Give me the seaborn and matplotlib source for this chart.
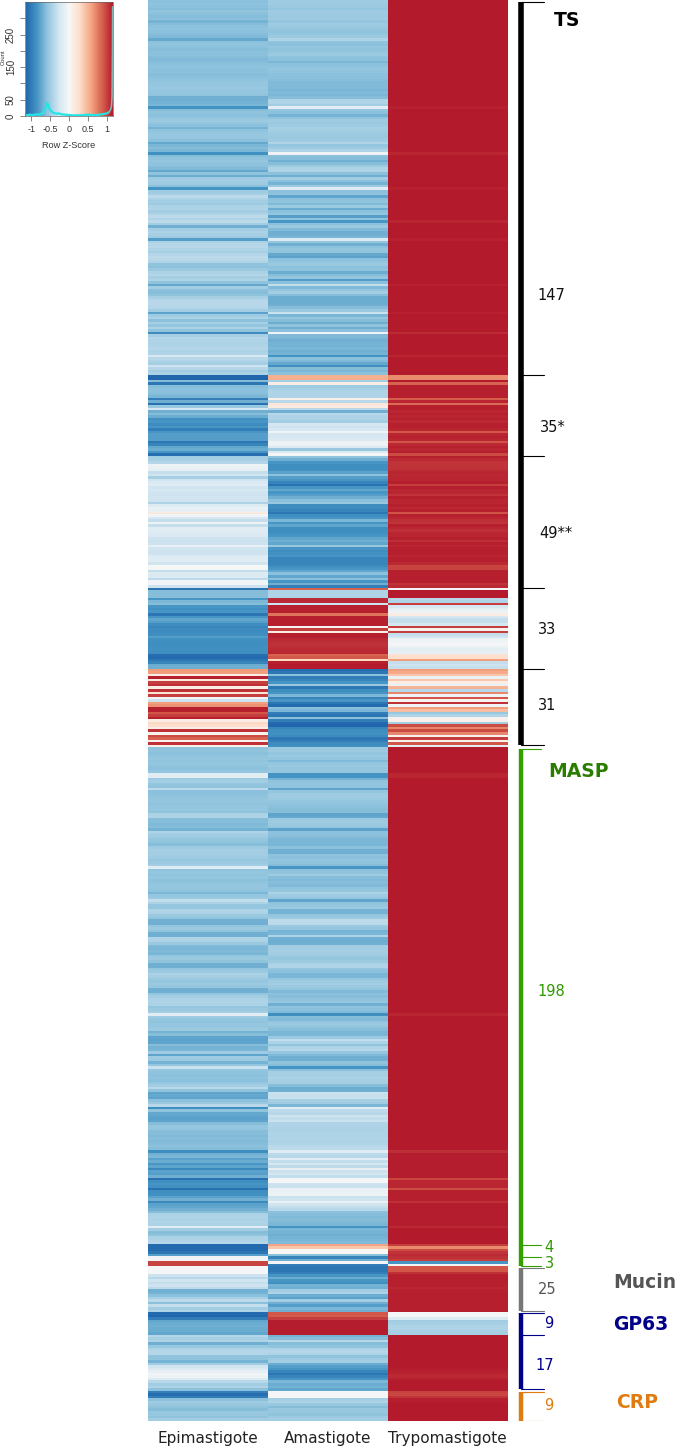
import numpy as np
import pandas as pd
import matplotlib
matplotlib.use("Agg")
import matplotlib.pyplot as plt
import seaborn as sns

W, H = 676, 1447
stages = ["Epimastigote", "Amastigote", "Trypomastigote"]

# z-score x 100, one row per heatmap line
ts_epi = [-60,-58,-60,-62,-58,-60,-62,-60,-68,-62,
-60,-58,-60,-62,-64,-74,-60,-58,-60,-62,
-60,-60,-62,-64,-62,-60,-58,-60,-60,-62,
-60,-58,-56,-56,-55,-56,-56,-58,-70,-70,
-68,-66,-86,-62,-58,-60,-56,-54,-56,-60,
-68,-58,-56,-55,-56,-60,-74,-66,-62,-66,
-88,-62,-58,-56,-58,-60,-64,-74,-58,-72,
-52,-50,-52,-60,-86,-52,-48,-38,-46,-50,
-52,-46,-44,-50,-44,-38,-44,-38,-50,-70,
-50,-46,-48,-52,-80,-46,-42,-40,-44,-48,
-42,-38,-40,-44,-58,-60,-54,-46,-42,-48,
-44,-58,-74,-50,-60,-62,-58,-48,-42,-40,
-40,-42,-50,-78,-52,-46,-60,-48,-56,-46,
-58,-92,-48,-42,-44,-46,-44,-42,-46,-44,
-24,-40,-44,-48,-30,-42,-50,-46]
ts_ama = [-52,-52,-54,-56,-52,-52,-54,-52,-56,-52,
-54,-56,-58,-56,-54,-44,-58,-60,-56,-58,
-56,-54,-58,-60,-66,-60,-58,-56,-58,-60,
-60,-62,-64,-64,-64,-66,-64,-66,-62,-44,
-44,-50,-16,-56,-60,-68,-58,-52,-54,-52,
-48,-50,-52,-54,-54,-52,-44,-56,-52,-44,
-6,-60,-62,-70,-62,-54,-46,-44,-60,-70,
-50,-60,-68,-54,-18,-60,-58,-76,-60,-58,
-64,-54,-72,-60,-56,-80,-58,-84,-60,-54,
-64,-70,-70,-66,-20,-56,-70,-60,-56,-58,
-74,-78,-60,-56,-54,-60,-58,-72,-62,-56,
-82,-60,-36,-64,-56,-50,-62,-72,-72,-72,
-70,-62,-54,-32,-66,-56,-62,-72,-58,-70,
-60,-6,-64,-66,-70,-68,-68,-66,-70,-68,
-86,-60,-64,-74,-88,-62,-66,-60]
ts_try = ([114]*42+[111]+[114]*17+[110]+[114]*13+[111]+[114]*12+[110]+[114]*6+[111]
          +[114]*17+[111]+[114]*10+[111]+[114]*7+[107]+[114]*8+[110]+[114]*7)

a_epi = [-115,-115,-62,-105,-62,-60,-60,-62,-66,-100,-70,-108,-55,-25,-70,-62,
-72,-88,-85,-92,-85,-100,-85,-80,-80,-80,-105,-95,-75,-72,-85,-110]
a_ama = [52,52,-50,10,-52,-48,-45,-45,-45,8,-40,18,15,-40,-70,-40,
-45,-45,-50,-25,-30,-25,-5,-25,-25,-22,-8,-8,-22,-55,-22,-2]
a_try = [68,68,114,85,112,112,112,112,112,88,110,82,112,112,110,112,
110,112,108,112,112,110,90,110,112,110,92,108,112,110,112,95]

b_epi = [-50,-48,-42,-8,-10,-12,-35,-28,-48,-28,-22,-18,-28,-25,-28,-30,-28,-30,-45,-20,
-10,-12,15,-5,-25,-35,-8,-35,-15,-18,-20,-22,-30,-32,-30,-12,-28,-30,-30,-22,
-18,-18,-28,0,-2,-35,-20,-22,-38,-5,-5,-30]
b_ama = [-58,-70,-85,-90,-90,-88,-78,-60,-80,-85,-95,-108,-85,-75,-85,-80,-70,-60,-55,-90,
-92,-95,-105,-90,-85,-65,-85,-75,-90,-90,-88,-85,-75,-70,-75,-55,-85,-90,-88,-85,
-95,-95,-95,-92,-85,-75,-60,-75,-60,-85,-70,-100]
b_try = [112,108,104,104,104,106,110,109,110,110,112,100,112,110,110,104,112,110,110,112,
109,112,92,112,110,106,104,112,110,106,110,110,112,106,112,110,112,112,112,110,
112,112,109,97,98,112,112,112,112,112,104,108]

c_epi = [-105,-62,-62,-62,-85,-65,-62,-85,-88,-85,-105,-85,-75,-80,-90,-95,
-92,-92,-90,-80,-88,-90,-90,-88,-88,-90,-110,-112,-105,-95,-72,-70]
c_ama = [85,-45,-45,-45,108,108,-30,112,112,112,78,112,112,112,112,2,
100,10,112,112,108,106,105,106,108,110,85,90,30,112,114,114]
c_try = [-3,114,114,114,-40,-45,100,-25,-15,-8,12,-25,-35,-35,-25,100,
5,100,-35,-28,-8,-5,-3,-10,-15,-12,22,25,60,-35,-30,-35]

d_epi = [62,60,10,112,15,100,105,10,105,20,100,-5,-30,60,65,112,
112,90,100,112,10,30,25,10,105,5,95,85,5,105,10]
d_ama = [-110,-105,-60,-100,-95,-85,-55,-105,-90,-85,-65,-95,-85,-105,-112,-60,
-65,-100,-105,-60,-100,-112,-115,-95,-90,-88,-92,-105,-100,-92,-88]
d_try = [60,55,40,-10,40,10,-10,50,-40,70,-5,90,5,105,-5,60,
45,-55,-45,5,8,-50,95,70,95,70,5,100,5,90,-15]

masp_epi = [-58,-58,-60,-58,-56,-58,-56,-58,-60,-56,
-16,-16,-52,-50,-56,-58,-38,-60,-60,-58,
-56,-56,-58,-56,-56,-58,-46,-44,-62,-62,
-64,-62,-68,-45,-50,-52,-56,-58,-62,-52,
-48,-50,-50,-52,-56,-54,-50,-18,-58,-56,
-58,-56,-60,-58,-56,-56,-58,-66,-56,-54,
-36,-46,-56,-56,-44,-46,-54,-58,-70,-70,
-56,-54,-58,-70,-70,-44,-46,-54,-64,-66,
-64,-66,-56,-54,-58,-70,-70,-56,-54,-46,
-48,-54,-56,-54,-56,-70,-70,-56,-50,-46,
-44,-46,-56,-54,-50,-16,-52,-56,-58,-56,
-56,-54,-68,-62,-76,-78,-76,-62,-68,-66,
-52,-76,-52,-54,-68,-56,-32,-56,-58,-60,
-58,-60,-56,-50,-40,-58,-76,-74,-76,-60,
-54,-40,-90,-58,-74,-76,-78,-76,-62,-56,
-56,-62,-62,-64,-62,-64,-62,-60,-62,-90,
-70,-66,-78,-72,-84,-76,-93,-78,-80,-70,
-108,-90,-85,-88,-108,-90,-88,-78,-70,-93,
-78,-75,-70,-62,-46,-44,-46,-44,-46,-16,
-50,-62,-58,-46,-44,-42]
masp_ama = [-54,-54,-56,-54,-56,-64,-56,-54,-56,-56,
-86,-86,-68,-58,-56,-58,-76,-56,-52,-52,
-54,-56,-58,-60,-62,-62,-76,-74,-54,-52,
-54,-56,-78,-60,-60,-62,-66,-66,-66,-60,
-70,-70,-58,-60,-56,-58,-62,-84,-60,-58,
-52,-62,-64,-62,-64,-58,-56,-46,-52,-56,
-76,-58,-56,-54,-68,-68,-56,-52,-38,-38,
-54,-56,-68,-66,-44,-70,-72,-70,-50,-50,
-48,-50,-54,-56,-54,-46,-44,-56,-60,-66,
-66,-56,-52,-50,-54,-56,-64,-60,-62,-58,
-56,-70,-58,-60,-64,-90,-62,-64,-56,-54,
-58,-62,-66,-66,-54,-36,-46,-58,-44,-40,
-56,-64,-70,-70,-58,-62,-86,-60,-48,-48,
-46,-48,-50,-62,-72,-70,-32,-34,-32,-48,
-52,-66,-18,-38,-40,-30,-36,-32,-44,-44,
-46,-46,-44,-46,-44,-46,-44,-40,-38,-18,
-38,-40,-16,-36,-26,-38,-12,-32,-26,-36,
-3,-3,-30,-32,-10,-10,-8,-32,-28,-10,
-28,-36,-40,-60,-62,-64,-62,-64,-66,-86,
-66,-68,-70,-68,-66,-64]
masp_try = ([114]*10+[110,110]+[114]*93+[110]+[114]*53+[106]+[113]*10+[97]+[110]*3+[94]
            +[112]*4+[105]+[113]*9+[108]+[114]*6)

m4_epi = [-112,-112,-112,-105,-80]
m4_ama = [58,40,0,0,-60]
m4_try = [100,68,95,104,108]
m3_epi = [-5,-5,98,98]
m3_ama = [-95,-70,-3,-100]
m3_try = [105,100,-85,-2]

muc_epi = [-3,-3,-3,-30,-40,-28,-35,-30,-38,-70,-68,-60,-48,-38,-60,-35,-50,-45]
muc_ama = [-105,-105,-100,-85,-72,-85,-88,-68,-70,-50,-45,-72,-78,-50,-70,-80,-65,-70]
muc_try = [90,90,105,112,112,112,111,111,110,111,112,112,112,112,112,112,112,112]

g9_epi = [-112,-115,-100,-75,-72,-70,-72,-72,-75]
g9_ama = [90,88,100,113,113,113,113,113,113]
g9_try = [-3,-3,-20,-50,-48,-45,-45,-48,-48]

g17_epi = [-42,-48,-45,-70,-55,-45,-42,-42,-58,-58,-68,-50,-28,-22,-12,-5,-8,-20,-40,-50,-45,-60]
g17_ama = [-68,-62,-40,-62,-58,-45,-42,-45,-58,-52,-50,-72,-80,-85,-95,-105,-95,-85,-65,-72,-68,-75]
g17_try = [114,114,114,114,114,114,114,114,114,114,114,114,114,113,111,110,108,111,114,114,114,114]

crp_epi = [-100,-110,-100,-60,-52,-55,-58,-62,-55,-55,-58,-50]
crp_ama = [-2,-3,-3,-48,-45,-55,-62,-55,-55,-58,-52,-50]
crp_try = [98,96,104,112,113,114,114,114,114,114,114,114]

groups = [
    (ts_epi, ts_ama, ts_try), (a_epi, a_ama, a_try), (b_epi, b_ama, b_try),
    (c_epi, c_ama, c_try), (d_epi, d_ama, d_try), (masp_epi, masp_ama, masp_try),
    (m4_epi, m4_ama, m4_try), (m3_epi, m3_ama, m3_try), (muc_epi, muc_ama, muc_try),
    (g9_epi, g9_ama, g9_try), (g17_epi, g17_ama, g17_try), (crp_epi, crp_ama, crp_try),
]
sizes = [len(g[0]) for g in groups]
table = pd.DataFrame({s: np.concatenate([g[i] for g in groups]) / 100 for i, s in enumerate(stages)})

# colour key histogram
hist_x = [-1.15,-1.05,-0.95,-0.85,-0.78,-0.72,-0.67,-0.62,-0.58,-0.54,-0.5,-0.45,-0.4,-0.33,-0.27,-0.2,-0.1,0,0.1,0.2,0.3,0.4,0.5,0.6,0.7,0.8,0.9,1.0,1.05]
hist_y = [2,4,3,5,4,8,14,26,40,28,18,12,9,7,8,5,4,3,2,2,2,3,4,3,3,4,6,8,12]
spike_x = [1.05,1.09,1.12,1.135,1.145,1.15]
spike_y = [12,18,30,60,200,335]

blues_reds = ["#2166AC","#4393C3","#92C5DE","#D1E5F0","#F7F7F7","#FDDBC7","#F4A582","#D6604D","#B2182B"]
cmap = sns.blend_palette(blues_reds, as_cmap=True)
vmin, vmax = -1.155, 1.155

sns.set_theme(style="white")
plt.rcParams["font.family"] = ["DejaVu Sans"]
fig = plt.figure(figsize=(W/100, H/100), dpi=100, facecolor="white")

def box(x0, y0, x1, y1):
    return [x0/W, 1-y1/H, (x1-x0)/W, (y1-y0)/H]

def ftext(x, y, s, **kw):
    fig.text(x/W, 1-y/H, s, ha=kw.pop("ha", "center"), va="center", **kw)

# main heatmap
ax = fig.add_axes(box(147.5, 0, 507.5, 1421))
sns.heatmap(table, ax=ax, cmap=cmap, vmin=vmin, vmax=vmax, cbar=False, yticklabels=False)
ax.tick_params(axis="x", length=0, pad=7.5, labelsize=11, labelcolor="#222222", labelrotation=0)
ax.set_ylabel("")

# brackets, drawn against the heatmap's own row scale
edges = np.concatenate([[0], np.cumsum(sizes)])
bx = fig.add_axes(box(510, 0, 560, 1421), sharey=ax)
bx.set_xlim(510, 560)
bx.axis("off")
bx.patch.set_alpha(0)

def bracket(top, bot, col, inner=(), lw=3.4, tip=543.5):
    bx.plot([521, 521], [top, bot], color=col, lw=lw, solid_capstyle="butt")
    for y in [top, bot] + list(inner):
        bx.plot([520.5, tip], [y, y], color=col, lw=0.8)

bracket(edges[0]+0.6, edges[5]-0.7, "black", inner=list(edges[1:5]), lw=4.0)
bracket(edges[5]+0.7, edges[8]-0.2, "#33A000", inner=[edges[6]+0.5, edges[7]+0.2], lw=3.2, tip=541)
bracket(edges[8]+0.4, edges[9]-0.3, "#777777", lw=3.2)
bracket(edges[9]+0.5, edges[11]-0.5, "#00008B", inner=[edges[10]], lw=3.2)
bracket(edges[11]+0.6, edges[12], "#E07B10", lw=3.2)

# labels
for x, y, s, c in [(551,295,"147","#111111"),(553,427,"35*","#111111"),(556,534,"49**","#111111"),
                   (547,629,"33","#111111"),(547,706,"31","#111111"),
                   (551,991,"198","#2f9a00"),(549,1247,"4","#2f9a00"),(549,1263,"3","#2f9a00"),
                   (547,1290,"25","#555555"),(549,1324,"9","#00008B"),(545,1366,"17","#00008B"),
                   (549,1406,"9","#E07B10")]:
    ftext(x, y, s, color=c, fontsize=10.5)
for x, y, s, c in [(567,20,"TS","black"),(578,772,"MASP","#2B7D00"),(645,1282,"Mucin","#555555"),
                   (641,1324,"GP63","#00008B"),(637,1403,"CRP","#E07B10")]:
    ftext(x, y, s, color=c, fontsize=13.5, fontweight="bold")

# colour key
key = fig.add_axes(box(25, 2, 113, 116))
grad = np.linspace(vmin, vmax, 256)
key.pcolormesh(grad, [0, 350], grad[None, :-1], cmap=cmap, vmin=vmin, vmax=vmax, shading="flat")
sns.lineplot(x=hist_x, y=hist_y, ax=key, color="#22E6E6", lw=1.6, estimator=None, sort=False)
sns.lineplot(x=spike_x, y=spike_y, ax=key, color="#7FB5B5", lw=1.2, estimator=None, sort=False)
key.set_xlim(-1.17, 1.16)
key.set_ylim(0, 350)
key.set_xticks([-1, -0.5, 0, 0.5, 1], labels=["-1", "-0.5", "0", "0.5", "1"], fontname="Liberation Sans")
key.set_yticks([0, 50, 100, 150, 200, 250, 300], labels=["0", "50", "", "150", "", "250", ""], fontname="Liberation Sans")
key.tick_params(axis="x", labelsize=6.5, length=3.5, width=0.5, color="#555555", pad=3, labelcolor="#333333", bottom=True)
key.tick_params(axis="y", labelsize=7, length=3.5, width=0.5, color="#555555", pad=3, labelcolor="#333333", labelrotation=90, left=True)
for lab in key.get_yticklabels():
    lab.set_va("center")
for sp in key.spines.values():
    sp.set_linewidth(0.5)
    sp.set_color("#666666")
ftext(69, 146, "Row Z-Score", fontsize=6.6, color="#333333", fontname="Liberation Sans")
ftext(3, 57, "Count", fontsize=4.2, color="#333333", rotation=90, fontname="Liberation Sans")

fig.savefig("out.png", dpi=100)
